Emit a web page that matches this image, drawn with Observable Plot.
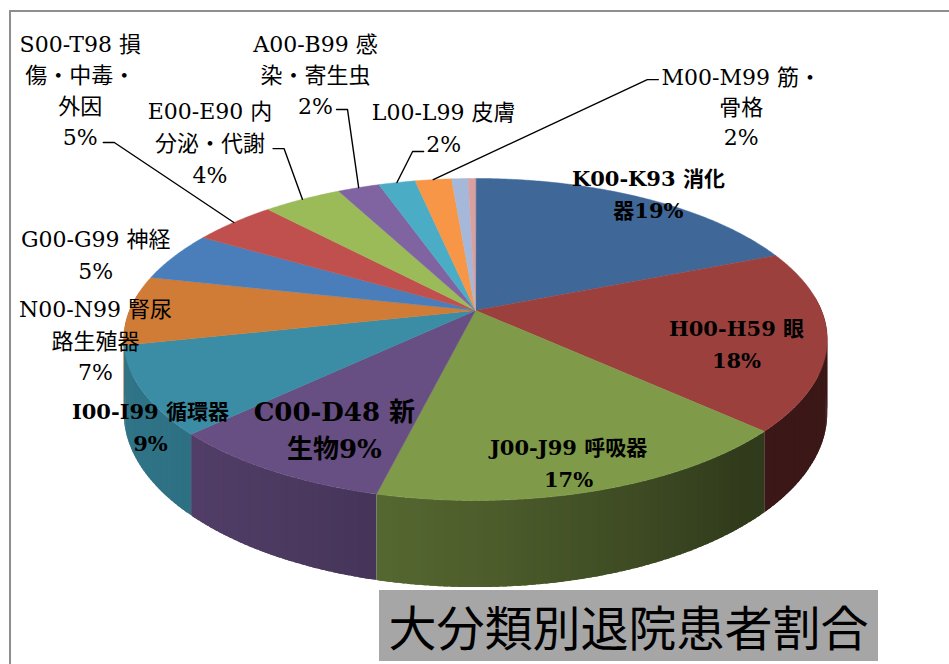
<!DOCTYPE html>
<html><head><meta charset="utf-8">
<script src="https://cdn.jsdelivr.net/npm/d3@7"></script>
<script src="https://cdn.jsdelivr.net/npm/@observablehq/plot@0.6"></script>
<style>
body{margin:0;background:#fff;}
#wrap{position:relative;width:949px;height:664px;overflow:hidden;background:#fff;}
#frame{position:absolute;left:9px;top:10px;width:960px;height:680px;border-top:2px solid #8e8e8e;border-left:2px solid #8e8e8e;}
#chart{position:absolute;left:0;top:0;}
#title{position:absolute;left:379px;top:590px;width:499px;height:71px;background:#a6a6a6;font-family:"Noto Sans CJK JP",sans-serif;font-size:48px;line-height:71px;text-align:center;color:#000;}
</style></head><body>
<div id="wrap"><div id="frame"></div><div id="chart"></div><div id="title">大分類別退院患者割合</div></div>
<script>
// ---- data ----
const categories = ["K00-K93 消化器","H00-H59 眼","J00-J99 呼吸器","C00-D48 新生物","I00-I99 循環器","N00-N99 腎尿路生殖器","G00-G99 神経","S00-T98 損傷・中毒・外因","E00-E90 内分泌・代謝","A00-B99 感染・寄生虫","L00-L99 皮膚","M00-M99 筋・骨格","その他A","その他B"];
const values = [18.9, 18.1, 16.9, 9.0, 8.8, 7.0, 5.0, 4.6, 4.3, 2.3, 2.0, 2.0, 0.9, 0.4];
const colors = ["#3F6898","#9B403D","#7F9A48","#674E83","#3A8DA5","#D07C36","#4A7EBB","#C0504D","#9BBB59","#8064A2","#4BACC6","#F79646","#A5B8D9","#D9A0A0"];
// wrapped label texts ({p} = percent)
const labelWrap = ["K00-K93 消化\n器{p}%","H00-H59 眼\n{p}%","J00-J99 呼吸器\n{p}%","C00-D48 新\n生物{p}%","I00-I99 循環器\n{p}%","N00-N99 腎尿\n路生殖器\n{p}%","G00-G99 神経\n{p}%","S00-T98 損\n傷・中毒・\n外因\n{p}%","E00-E90 内\n分泌・代謝\n{p}%","A00-B99 感\n染・寄生虫\n{p}%","L00-L99 皮膚\n{p}%","M00-M99 筋・\n骨格\n{p}%",null,null];

// ---- layout (not data) ----
const P = {cx:475, cy:310, a:346, b:155.8, k:0.18, h:71};
// label placement in pie polar terms: angle offset from slice mid, radius factor
const labelLayout = [
  {dA:-0.75, r:1.058, size:21, weight:"bold", lh:1.52},
  {dA:4.6, r:0.7535, size:21, weight:"bold", lh:1.48},
  {dA:1.1, r:0.852, size:21, weight:"bold", lh:1.52},
  {dA:-1.3, r:0.7527, size:26, weight:"bold", lh:1.45},
  {dA:-9.7, r:1.052, size:21, weight:"bold", lh:1.52},
  {dA:-9.5, r:1.078, size:22, weight:"normal", lh:1.43},
  {dA:-3.1, r:1.241, size:22, weight:"normal", lh:1.43},
  {dA:12.3, r:2.456, size:22, weight:"normal", lh:1.4, leader:[23,54,1]},
  {dA:-0.1, r:1.659, size:22, weight:"normal", lh:1.45, leader:[63,8,1]},
  {dA:6.3, r:2.195, size:22, weight:"normal", lh:1.4, leader:[21,36.5,1]},
  {dA:11.0, r:1.51, size:22, weight:"normal", lh:1.42, leader:[-20,25.5,-1]},
  {dA:38.5, r:2.0, size:22, weight:"normal", lh:1.36, leader:[-83,-25.5,-1]}
];

const total = d3.sum(values);
let acc = 0;
const slices = values.map((v,i)=>{const a0=acc/total*360; acc+=v; const a1=acc/total*360; return {i,name:categories[i],value:v,a0,a1,mid:(a0+a1)/2,color:colors[i]};});

function proj(deg, r=1, z=0){
  const t=deg*Math.PI/180; const u=r*Math.sin(t), v=-r*Math.cos(t);
  const s=1/(1-P.k*v);
  return {x:P.cx+P.a*u*s, y:P.cy+P.b*v*s+z*s};
}
function shade(deg){
  const f=0.5+0.32*Math.cos((deg-250)*Math.PI/180);
  return Math.max(0.38, f);
}

// walls (small overlapping segments, back to front)
const segs=[];
for(const sl of slices){
  const n=Math.max(1,Math.ceil((sl.a1-sl.a0)/1));
  for(let j=0;j<n;j++){
    const t0=sl.a0+(sl.a1-sl.a0)*j/n, t1=Math.min(sl.a1, sl.a0+(sl.a1-sl.a0)*(j+1)/n+0.7), tm=sl.a0+(sl.a1-sl.a0)*(j+0.5)/n;
    const vm=-Math.cos(tm*Math.PI/180);
    if(vm<-0.1) continue;
    segs.push({sl,t0,t1,tm,vm});
  }
}
segs.sort((a,b)=>a.vm-b.vm);
const wallPts=[];
segs.forEach((sg,k)=>{
  const f=shade(sg.tm), c=d3.rgb(sg.sl.color);
  const col=d3.rgb(c.r*f,c.g*f,c.b*f).formatHex();
  const pts=[];
  for(let q=0;q<=3;q++) pts.push(proj(sg.t0+(sg.t1-sg.t0)*q/3,1,0));
  for(let q=3;q>=0;q--) pts.push(proj(sg.t0+(sg.t1-sg.t0)*q/3,1,P.h));
  pts.forEach(p=>wallPts.push({x:p.x,y:p.y,key:"w"+k,col}));
});

// top faces
const topPts=[];
for(const sl of slices){
  const c0=proj(0,0,0); topPts.push({x:c0.x,y:c0.y,key:"t"+sl.i,col:sl.color});
  const n=Math.max(2,Math.ceil((sl.a1-sl.a0)/0.5));
  for(let j=0;j<=n;j++){const p=proj(sl.a0+(sl.a1-sl.a0)*j/n,1,0); topPts.push({x:p.x,y:p.y,key:"t"+sl.i,col:sl.color});}
}

// labels & leaders
const textMarks=[], leaderPts=[];
labelLayout.forEach((L,i)=>{
  const sl=slices[i];
  const pct=Math.round(sl.value/total*100);
  const pos=proj(sl.mid+L.dA, L.r, 0);
  const txt=labelWrap[i].replace("{p}", pct);
  textMarks.push(Plot.text([{x:pos.x,y:pos.y,t:txt}],{x:"x",y:"y",text:"t",fontSize:L.size,fontWeight:L.weight,lineHeight:L.lh,textAnchor:"middle",lineAnchor:"middle",fill:"#000",fontFamily:"'DejaVu Serif','Noto Sans CJK JP',serif"}));
  if(L.leader){
    const [dx,dy,dir]=L.leader;
    const s0={x:pos.x+dx,y:pos.y+dy};
    const s1={x:s0.x+11*dir,y:s0.y};
    const e=proj(sl.mid,1,0);
    [s0,s1,e].forEach(p=>leaderPts.push({x:p.x,y:p.y,key:"l"+i}));
  }
});

const chart=Plot.plot({
  width:949, height:664, margin:0,
  x:{domain:[0,949], range:[0,949], axis:null},
  y:{domain:[0,664], range:[0,664], axis:null},
  color:{type:"identity"},
  style:{background:"transparent", overflow:"visible"},
  marks:[
    Plot.line(wallPts,{x:"x",y:"y",z:"key",fill:"col",stroke:"none",curve:"linear-closed"}),
    Plot.line(topPts,{x:"x",y:"y",z:"key",fill:"col",stroke:"col",strokeWidth:0.5,curve:"linear-closed"}),
    Plot.line(leaderPts,{x:"x",y:"y",z:"key",stroke:"#000",strokeWidth:1.4}),
    ...textMarks
  ]
});
document.getElementById("chart").appendChild(chart);
</script>
</body></html>
